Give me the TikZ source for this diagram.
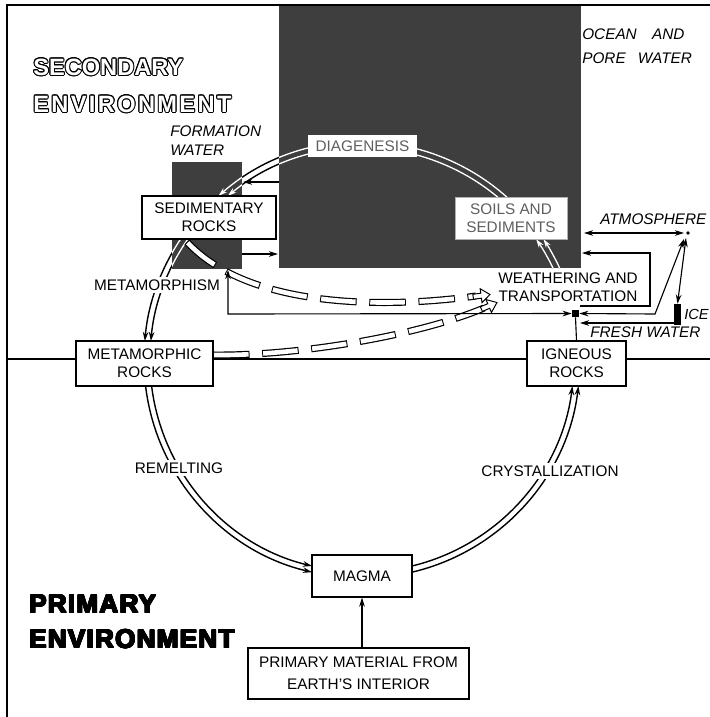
\documentclass[tikz,border=0pt]{standalone}
\usepackage{fontspec}
\setmainfont{Liberation Sans}
\usepackage{contour}
\contourlength{0.7pt}
\usetikzlibrary{arrows.meta, positioning}

\definecolor{seagray}{RGB}{62,62,62}
\definecolor{fadedtext}{RGB}{95,95,95}

\newcommand\labelfont{\fontsize{10.9}{12.8}\selectfont}
\newcommand\envfont{\fontsize{16.8}{18}\selectfont\bfseries}
\newcommand\primfont{\fontsize{18.5}{20}\selectfont\bfseries\addfontfeatures{LetterSpace=5}\contourlength{0.5pt}}

% the two-line arcs of the rock cycle, in one colour
\newcommand\cyclearcs[1]{%
  \foreach \rad in {212,218}{%
    % diagenesis
    \draw[cycline, #1] (hub) ++(-45:\rad) arc[start angle=-45, end angle={-180+asin(164/\rad)}, radius=\rad];
    % metamorphism
    \draw[cycline, #1] (hub) ++(-140:\rad) arc[start angle=-140, end angle={-180+asin(19/\rad)}, radius=\rad];
    % remelting
    \draw[cycline, #1] (hub) ++({180-asin(26/\rad)}:\rad) arc[start angle={180-asin(26/\rad)}, end angle={acos(-50/\rad)}, radius=\rad];
    % crystallization
    \draw[cycline, #1] (hub) ++({acos(50/\rad)}:\rad) arc[start angle={acos(50/\rad)}, end angle={asin(26/\rad)}, radius=\rad];
    % weathering
    \draw[cycline, #1] (hub) ++({-asin(92/\rad)}:\rad) arc[start angle={-asin(92/\rad)}, end angle={-asin(121/\rad)}, radius=\rad];
  }}

\tikzset{openhead/.pic={\draw[line width=0.7pt, fill=white] (0,0) -- (-9,-7) -- (-9,-2.5) -- (-17,-2.5) -- (-17,2.5) -- (-9,2.5) -- (-9,7) -- cycle;}}

\begin{document}
\begin{tikzpicture}[x=0.025cm, y=-0.025cm,
  >={Stealth[length=6.5pt,width=4pt]},
  rockbox/.style={draw, line width=0.8pt, fill=white, align=center, inner sep=0pt, font=\labelfont},
  procname/.style={font=\labelfont, fill=white, inner sep=2pt, align=center},
  waterbody/.style={font=\labelfont\itshape, anchor=west, inner sep=0pt, align=left},
  flow/.style={line width=0.8pt},
  cycline/.style={line width=1pt, ->},
  barout/.style={line width=5pt, dash pattern=on 26pt off 9pt},
  barin/.style={draw=white, line width=3.3pt, dash pattern=on 24.6pt off 10.4pt, dash phase=-0.7pt}]

\useasboundingbox (0,0) rectangle (710,717);

% reservoirs of the secondary environment
\fill[seagray] (279,5) rectangle (581,268);
\fill[seagray] (172,162) rectangle (242,269);

% frame and boundary between the environments
\draw[line width=1pt] (7,717) -- (7,5) -- (710,5);
\draw[line width=1.6pt] (7,359) -- (710,359);

% rock cycle
\coordinate (hub) at (362,360);
\cyclearcs{black}
\begin{scope}
  \clip (279,5) rectangle (581,268) (172,162) rectangle (242,269);
  \cyclearcs{white}
\end{scope}

% dashed transport paths
\draw[barout, postaction={barin}] (187,242) .. controls (250,310) and (390,308) .. (476,296);
\draw[barout, postaction={barin}] (213,355) .. controls (300,356) and (420,335) .. (484,308);
\pic[rotate=7.6] at (490,294.5) {openhead};
\pic[rotate=22.9] at (497,302.5) {openhead};

% boxes
\node[rockbox, minimum width=3.35cm, minimum height=1.075cm] (sed) at (209,217.5) {SEDIMENTARY\\ROCKS};
\node[rockbox, minimum width=3.425cm, minimum height=1.125cm] (meta) at (144.5,363.5) {METAMORPHIC\\ROCKS};
\node[rockbox, minimum width=2.475cm, minimum height=1.125cm] (ign) at (576.5,363.5) {IGNEOUS\\ROCKS};
\node[rockbox, minimum width=2.5cm, minimum height=1.05cm] (magma) at (362,576) {MAGMA};
\node[rockbox, minimum width=5.525cm, minimum height=1.275cm, font=\fontsize{10.9}{15.6}\selectfont] (prim) at (358.5,673.5) {PRIMARY MATERIAL FROM\\EARTH'S INTERIOR};
\node[rockbox, draw=fadedtext!50, line width=0.5pt, text=fadedtext, minimum width=2.8cm, minimum height=1.05cm] (soils) at (511,218) {SOILS AND\\SEDIMENTS};
\node[fill=white, text=fadedtext, font=\labelfont, minimum width=2.725cm, minimum height=0.55cm, inner sep=0pt] (diag) at (362.5,146) {DIAGENESIS};

% process names
\node[procname] (metam) at (157,285) {METAMORPHISM};
\node[procname] (remelt) at (179,468) {REMELTING};
\node[procname] (cryst) at (550,471) {CRYSTALLIZATION};
\node[font=\labelfont, align=center, inner sep=1pt] (weath) at (568,287) {WEATHERING AND\\TRANSPORTATION};

\draw[flow,->] (prim.north -| magma) -- (magma.south);

% exchange between ocean and formation water
\draw[flow,->] (279,182) -- (243,182);
\draw[flow,->] (242,254) -- (278,254);

% atmosphere, ice and fresh water
\coordinate (atm) at (688,233);
\fill (atm) circle[radius=1.8];
\node[fill, inner sep=0pt, minimum size=0.175cm] (fresh) at (575.5,313.5) {};
\node[fill, inner sep=0pt, minimum width=0.175cm, minimum height=0.525cm] (icebar) at (677.5,314.5) {};
\draw[flow,<->] (584,233) -- (684,233);
\draw[flow,<->] (686,238) -- (icebar.north);
\draw[flow,<->] (684,239) -- (655,314) -- (fresh.east);
\draw[flow,->] (icebar.west |- 0,323) -- (580,323);
\draw[flow,->] (580,306) -- (650,306) -- (650,253) -- (582,253);
\draw[flow,<->] (228,270) -- (228,314) -- (fresh.west);
\draw[flow] (fresh.south) -- (ign.north);

% water bodies
\node[waterbody, font=\fontsize{10.9}{13.5}\selectfont\itshape] (formw) at (170,140.5) {FORMATION\\WATER};
\node[waterbody, font=\fontsize{10.9}{17}\selectfont\itshape] (oceanw) at (582,46) {OCEAN\quad AND\\PORE\hspace{0.8em}WATER};
\node[waterbody] (atmos) at (600,219) {ATMOSPHERE};
\node[waterbody, font=\fontsize{10.4}{12}\selectfont\itshape] (icew) at (684,314) {ICE};
\node[waterbody] (freshw) at (590,332) {FRESH WATER};

% environments
\node[anchor=west, inner sep=0pt] (secA) at (33,67.5) {\envfont\color{white}\contour{black}{SECONDARY}};
\node[anchor=west, inner sep=0pt] (secB) at (33,104.5) {\envfont\addfontfeatures{LetterSpace=10}\color{white}\contour{black}{ENVIRONMENT}};
\node[anchor=west, inner sep=0pt] (primA) at (29,604.5) {\primfont\contour{black}{PRIMARY}};
\node[anchor=west, inner sep=0pt] (primB) at (29,639.5) {\primfont\contour{black}{ENVIRONMENT}};
\end{tikzpicture}
\end{document}
